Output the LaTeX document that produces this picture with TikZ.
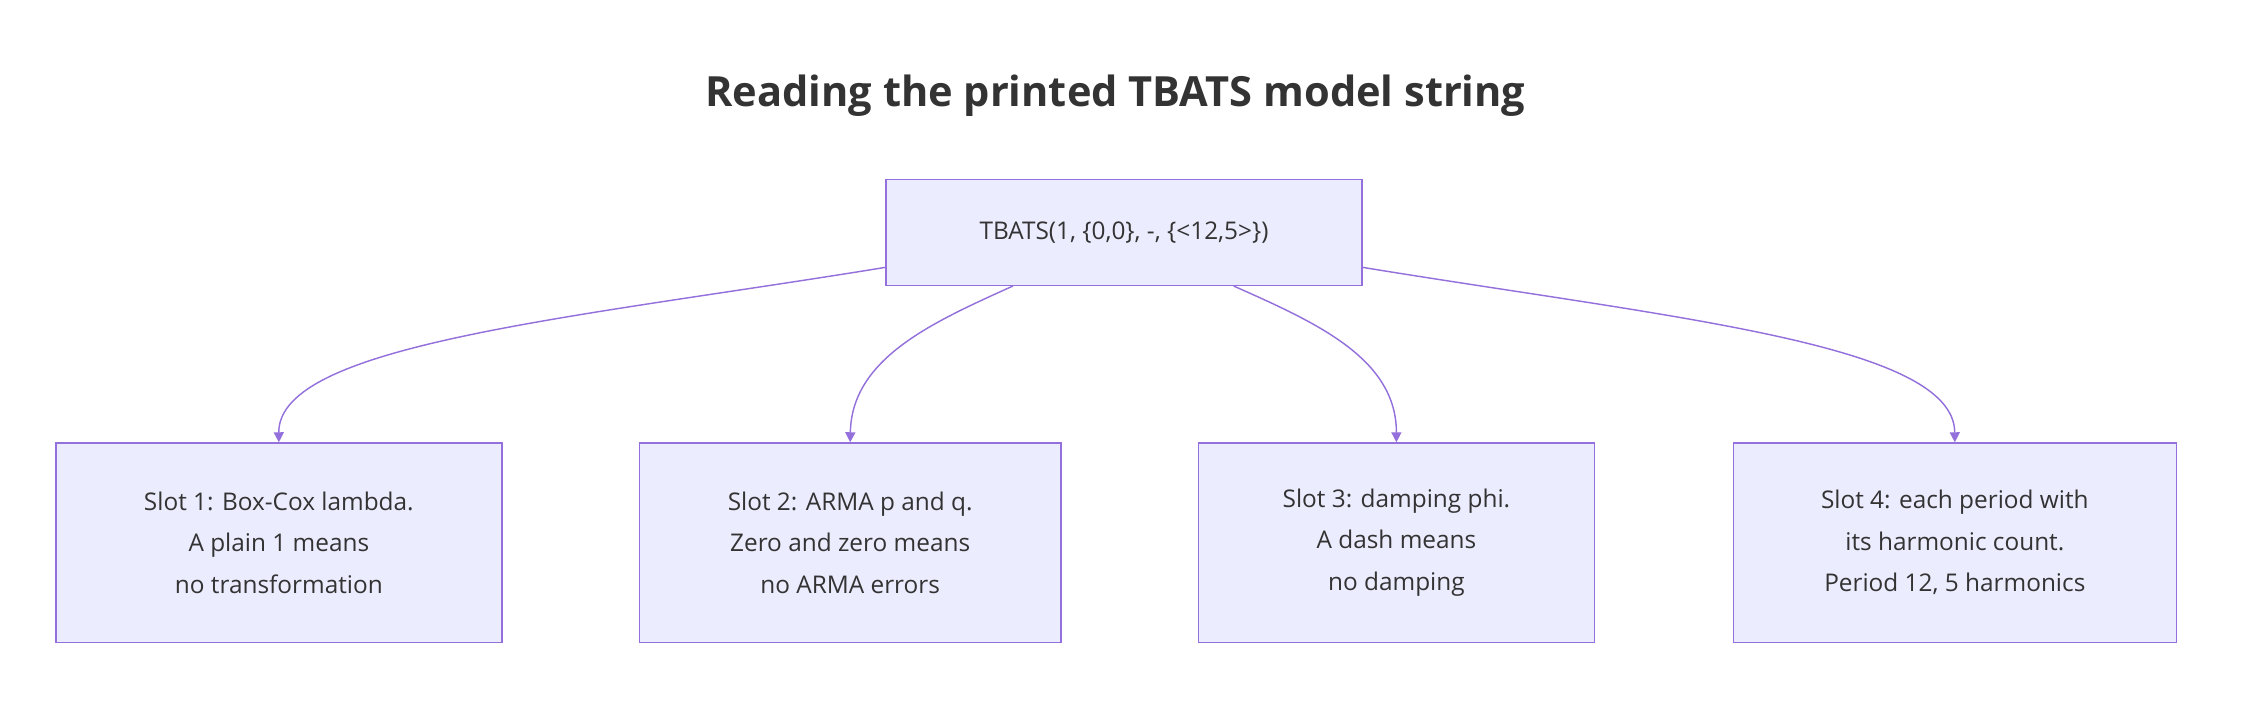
\documentclass[tikz,border=0pt]{standalone}
\usepackage{fontspec}
\setmainfont{Open Sans}
\usetikzlibrary{arrows.meta,calc}
\definecolor{bx}{HTML}{ECECFF}
\definecolor{st}{HTML}{9370DB}
\definecolor{tx}{HTML}{333333}
\begin{document}
\begin{tikzpicture}[x=1pt,y=-1pt,
  box/.style={draw=st,fill=bx,line width=1pt,text=tx,align=center,font=\fontsize{17}{29}\selectfont,inner sep=0pt},
  arr/.style={draw=st,line width=1pt,-{Triangle[length=7pt,width=7pt]}}]
\useasboundingbox (0,0) rectangle (1568,491);
\node[text=tx,font=\fontsize{29}{34}\selectfont\bfseries] (title) at (778,67) {Reading the printed TBATS model string};
\node[box,minimum width=332pt,minimum height=74pt] (top) at (784,162) {TBATS(1, \{0,0\}, -, \{<12,5>\})};
\node[box,minimum width=311pt,minimum height=139pt] (a) at (194.5,378.5) {Slot 1: Box-Cox lambda.\\A plain 1 means\\no transformation};
\node[box,minimum width=294pt,minimum height=139pt] (b) at (593,378.5) {Slot 2: ARMA p and q.\\Zero and zero means\\no ARMA errors};
\node[box,minimum width=276pt,minimum height=139pt] (c) at (974,378.5) {Slot 3: damping phi.\\A dash means\\no damping};
\node[box,minimum width=309pt,minimum height=139pt] (d) at (1363.5,378.5) {Slot 4: each period with\\its harmonic count.\\Period 12, 5 harmonics};
\draw[arr] ($(top.north west)+(0,62)$) .. controls (400,222) and (194,240) .. (a.north);
\draw[arr] ($(top.south west)+(89,0)$) .. controls (650,225) and (594,250) .. (b.north);
\draw[arr] ($(top.south west)+(243,0)$) .. controls (918,225) and (974,250) .. (c.north);
\draw[arr] ($(top.north east)+(0,62)$) .. controls (1168,222) and (1363,240) .. (d.north);
\end{tikzpicture}
\end{document}
